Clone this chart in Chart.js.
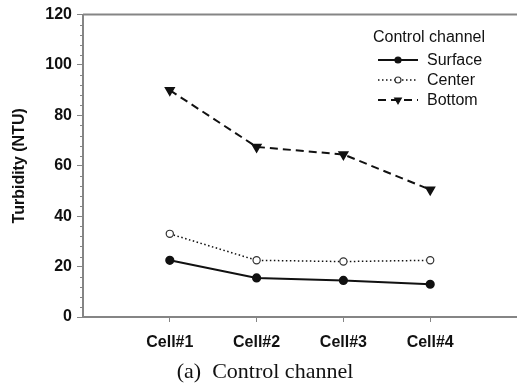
<!DOCTYPE html>
<html>
<head>
<meta charset="utf-8">
<script src="https://cdn.jsdelivr.net/npm/chart.js@4"></script>
<style>
  html, body { margin: 0; padding: 0; background: #fff; }
  #wrap { width: 517px; height: 388px; }
</style>
</head>
<body>
<div id="wrap"><canvas id="turbidity"></canvas></div>
<script>
const cells = ["Cell#1", "Cell#2", "Cell#3", "Cell#4"];
const surface = [22.5, 15.5, 14.5, 13];
const center = [33, 22.5, 22, 22.5];
const bottom = [90, 67.5, 64.5, 50.5];
const yTicks = [0, 20, 40, 60, 80, 100, 120];

const axisGrey = "#858585";
const ink = "#111";
const sans = "'Liberation Sans', Arial, sans-serif";

function pts(values) {
  return values.map((v, i) => ({ x: i + 1, y: v }));
}

// top frame line, minor y ticks, the in-plot legend and the caption
const extras = {
  id: "extras",
  afterDraw(chart) {
    const ctx = chart.ctx;
    const area = chart.chartArea;
    const y = chart.scales.y;
    ctx.save();
    ctx.strokeStyle = axisGrey;
    ctx.lineWidth = 2;
    ctx.beginPath();
    ctx.moveTo(area.left, area.top);
    ctx.lineTo(chart.width, area.top);
    ctx.stroke();

    ctx.lineWidth = 1;
    for (let v = 0; v <= 120; v += 4) {
      if (v % 20 === 0) continue;
      const py = Math.round(y.getPixelForValue(v)) + 0.5;
      ctx.beginPath();
      ctx.moveTo(area.left - 3, py);
      ctx.lineTo(area.left, py);
      ctx.stroke();
    }

    // legend
    ctx.fillStyle = ink;
    ctx.font = "16px " + sans;
    ctx.textBaseline = "middle";
    ctx.fillText("Control channel", 373, 38);
    const rows = [60, 80, 100];
    chart.data.datasets.forEach((ds, i) => {
      const ry = rows[i];
      ctx.strokeStyle = ink;
      ctx.lineWidth = ds.borderWidth;
      ctx.setLineDash(ds.borderDash || []);
      ctx.beginPath();
      ctx.moveTo(378, ry);
      ctx.lineTo(418, ry);
      ctx.stroke();
      ctx.setLineDash([]);
      ctx.fillStyle = ds.pointBackgroundColor;
      ctx.strokeStyle = ds.pointBorderColor;
      ctx.lineWidth = 1.2;
      Chart.helpers.drawPoint(ctx, {
        pointStyle: ds.pointStyle,
        radius: ds.pointStyle === "circle" ? 3 : 3.8,
        rotation: ds.pointRotation || 0,
        borderWidth: 1.2
      }, 398, ry);
      ctx.fillStyle = ink;
      ctx.font = "16px " + sans;
      ctx.fillText(ds.label, 427, ry + 1);
    });

    // caption under the axis
    ctx.fillStyle = ink;
    ctx.textAlign = "center";
    ctx.font = "22px 'Liberation Serif', 'Times New Roman', serif";
    ctx.fillText("(a)  Control channel", 265, 372);
    ctx.restore();
  }
};

new Chart(document.getElementById("turbidity"), {
  type: "line",
  data: {
    datasets: [{
      label: "Surface",
      data: pts(surface),
      borderColor: ink,
      borderWidth: 2,
      pointStyle: "circle",
      pointRadius: 3.6,
      pointBackgroundColor: ink,
      pointBorderColor: ink
    }, {
      label: "Center",
      data: pts(center),
      borderColor: ink,
      borderWidth: 1.5,
      borderDash: [1.5, 2.5],
      pointStyle: "circle",
      pointRadius: 3.6,
      pointBackgroundColor: "#fff",
      pointBorderColor: "#333",
      pointBorderWidth: 1.2
    }, {
      label: "Bottom",
      data: pts(bottom),
      borderColor: ink,
      borderWidth: 2,
      borderDash: [8, 5],
      pointStyle: "triangle",
      pointRotation: 180,
      pointRadius: 4.5,
      pointBackgroundColor: ink,
      pointBorderColor: ink
    }]
  },
  options: {
    responsive: true,
    maintainAspectRatio: false,
    animation: false,
    layout: { autoPadding: false, padding: { top: 13, right: 0, left: 0, bottom: 0 } },
    plugins: { legend: { display: false }, tooltip: { enabled: false } },
    scales: {
      x: {
        type: "linear",
        min: 0,
        max: 5,
        afterBuildTicks: s => { s.ticks = cells.map((c, i) => ({ value: i + 1 })); },
        afterFit: s => { s.height = 71; },
        ticks: {
          callback: v => cells[v - 1],
          color: ink,
          padding: 11,
          maxRotation: 0,
          font: { family: sans, size: 16, weight: "bold" }
        },
        grid: { drawOnChartArea: false, tickLength: 5, tickColor: axisGrey },
        border: { color: axisGrey, width: 2 }
      },
      y: {
        min: 0,
        max: 120,
        afterBuildTicks: s => { s.ticks = yTicks.map(v => ({ value: v })); },
        afterFit: s => { s.width = 83; },
        ticks: {
          color: ink,
          padding: 5,
          font: { family: sans, size: 16, weight: "bold" }
        },
        grid: { drawOnChartArea: false, tickLength: 6, tickColor: axisGrey },
        border: { color: axisGrey, width: 2 },
        title: {
          display: true,
          text: "Turbidity (NTU)",
          color: ink,
          padding: { top: 10, bottom: 0 },
          font: { family: sans, size: 16, weight: "bold" }
        }
      }
    }
  },
  plugins: [extras]
});
</script>
</body>
</html>
